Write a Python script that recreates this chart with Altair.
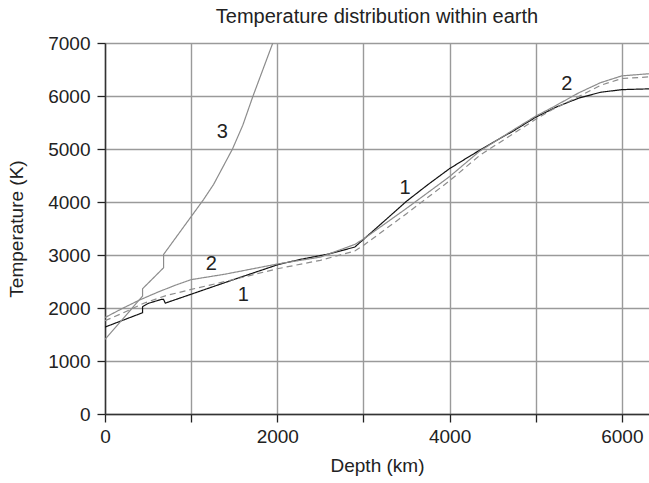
import altair as alt
import pandas as pd

# Curve 1: black solid profile (depth in km, temperature in K)
depth_1 = [0, 436, 436, 500, 653, 680, 700, 1000, 1500, 2013, 2266, 2600, 2900,
           3200, 3500, 3750, 4000, 4250, 4500, 4750, 5000, 5250, 5500, 5750, 6000, 6315]
temp_1 = [1640, 1911, 2024, 2086, 2162, 2162, 2092, 2260, 2540, 2821, 2916, 3020, 3150,
          3580, 4014, 4330, 4630, 4880, 5120, 5350, 5600, 5800, 5960, 6070, 6120, 6135]

# Curve 2: grey solid profile
depth_2 = [0, 200, 400, 600, 800, 1000, 1400, 2000, 2500, 2900,
           3000, 3500, 4000, 4350, 4750, 5000, 5200, 5500, 5750, 6000, 6315]
temp_2 = [1820, 1990, 2150, 2290, 2420, 2535, 2640, 2830, 2960, 3200,
          3300, 3880, 4480, 4960, 5370, 5620, 5790, 6060, 6250, 6380, 6420]

# Curve 2 (alternative): grey dashed profile
depth_2b = [0, 200, 450, 700, 1000, 1500, 2000, 2500, 2900,
            3000, 3500, 4000, 4350, 4750, 5000, 5200, 5500, 5750, 6000, 6315]
temp_2b = [1760, 1900, 2090, 2230, 2350, 2540, 2740, 2900, 3075,
           3180, 3780, 4400, 4880, 5300, 5560, 5750, 5990, 6200, 6330, 6360]

# Curve 3: grey steep profile
depth_3 = [0, 436, 436, 680, 680, 1144, 1260, 1480, 1600, 1716, 1948]
temp_3 = [1406, 2224, 2363, 2759, 3010, 4046, 4330, 5000, 5450, 5990, 7000]

# Curve labels
label_text = ["1", "1", "2", "2", "3"]
label_depth = [1606, 3483, 1233, 5362, 1361]
label_temp = [2236, 4271, 2821, 6232, 5328]

rows = []
for name, ds, ts in [("c1", depth_1, temp_1), ("c2", depth_2, temp_2),
                     ("c2b", depth_2b, temp_2b), ("c3", depth_3, temp_3)]:
    for i, (d, t) in enumerate(zip(ds, ts)):
        rows.append({"depth": d, "temp": t, "curve": name, "seq": i})
df = pd.DataFrame(rows)

labels = pd.DataFrame({"text": label_text, "depth": label_depth, "temp": label_temp})

FONT = "Liberation Sans"
INK = "#222222"
x_scale = alt.Scale(domain=[0, 6315], nice=False, zero=False)
y_scale = alt.Scale(domain=[0, 7000], nice=False)

x_axis = alt.Axis(
    values=list(range(0, 7000, 1000)),
    labelExpr="datum.value % 2000 == 0 ? datum.value : ''",
    title="Depth (km)",
    grid=True, gridColor="#9a9a9a", gridWidth=1.4, gridOpacity=1,
    domainColor="#333333", domainWidth=1.5,
    tickColor=INK, tickSize=8, tickWidth=1.3,
    labelFont=FONT, labelFontSize=19, labelColor=INK, labelPadding=5,
    titleFont=FONT, titleFontSize=19, titleFontWeight="normal", titleColor=INK,
    titlePadding=10, labelFlush=False,
)
y_axis = alt.Axis(
    values=list(range(0, 8000, 1000)),
    format="d",
    title="Temperature (K)",
    grid=True, gridColor="#9a9a9a", gridWidth=1.4, gridOpacity=1,
    domainColor="#333333", domainWidth=1.5,
    tickColor=INK, tickSize=8, tickWidth=1.3,
    labelFont=FONT, labelFontSize=19, labelColor=INK, labelPadding=7,
    titleFont=FONT, titleFontSize=19, titleFontWeight="normal", titleColor=INK,
    titlePadding=21, labelFlush=False,
)

lines = alt.Chart(df).mark_line(clip=True, strokeWidth=1.2).encode(
    x=alt.X("depth:Q", scale=x_scale, axis=x_axis),
    y=alt.Y("temp:Q", scale=y_scale, axis=y_axis),
    detail="curve:N",
    order="seq:Q",
    color=alt.Color("curve:N", legend=None,
                    scale=alt.Scale(domain=["c1", "c2", "c2b", "c3"],
                                    range=["#111111", "#8c8c8c", "#8c8c8c", "#8c8c8c"])),
    strokeDash=alt.StrokeDash("curve:N", legend=None,
                              scale=alt.Scale(domain=["c1", "c2", "c2b", "c3"],
                                              range=[[1, 0], [1, 0], [6, 4], [1, 0]])),
)

text = alt.Chart(labels).mark_text(font=FONT, fontSize=20, color=INK).encode(
    x=alt.X("depth:Q", scale=x_scale),
    y=alt.Y("temp:Q", scale=y_scale),
    text="text:N",
)

chart = alt.layer(lines, text).properties(
    width=544, height=371,
    title=alt.TitleParams("Temperature distribution within earth", font=FONT,
                          fontSize=20, fontWeight="normal", color=INK, offset=7),
    autosize=alt.AutoSizeParams(type="none"),
    padding={"left": 105, "top": 43, "right": 0, "bottom": 69},
).configure_view(stroke=None)

chart.save("out.html", embed_options={"renderer": "svg", "actions": False})
